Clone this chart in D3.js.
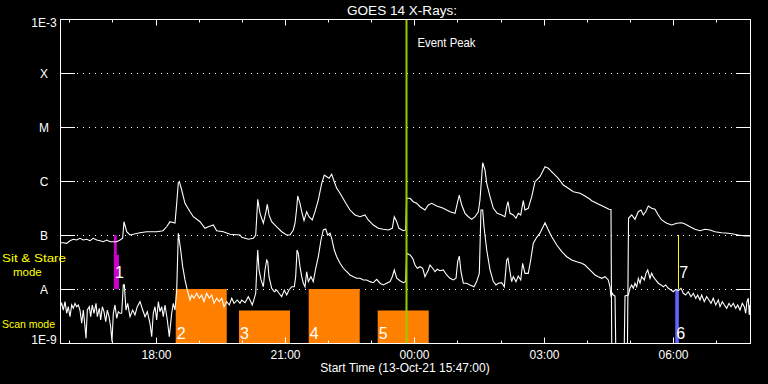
<!DOCTYPE html>
<html><head><meta charset="utf-8">
<script src="https://cdn.jsdelivr.net/npm/d3@7"></script>
<style>
html,body{margin:0;padding:0;background:#000;}
svg{display:block;}
text{font-family:"Liberation Sans",Arial,sans-serif;fill:#fff;}
</style></head>
<body>
<svg id="chart" width="768" height="384"></svg>
<script>
// ---------------- DATA ----------------
const title = "GOES 14 X-Rays:";
const xTitle = "Start Time (13-Oct-21 15:47:00)";
const startTime = "2021-10-13 15:47";
const spanMinutes = 960;
const yTickValues = [1e-3, 1e-4, 1e-5, 1e-6, 1e-7, 1e-8, 1e-9];
const yTickLabels = ["1E-3", "X", "M", "C", "B", "A", "1E-9"];
const gridLevels = [1e-4, 1e-5, 1e-6, 1e-7, 1e-8];

// long channel (1-8 A): [minutes after start, W/m^2]
const longChannel = [[0,7.2e-8],[4.6,7.2e-8],[9.3,7.0e-8],[13.9,7.84e-8],[18.5,8.33e-8],[23.2,8.08e-8],[27.8,8.69e-8],[32.4,8.08e-8],[37.1,8.33e-8],[41.7,7.84e-8],[46.3,8.69e-8],[51.1,8.08e-8],[55.7,7.84e-8],[60.2,7.52e-8],[65.0,8.08e-8],[69.6,7.52e-8],[74.2,7.52e-8],[78.9,7.52e-8],[83.5,8.08e-8],[87.2,8.69e-8],[89.0,1.76e-7],[92.8,1.15e-7],[97.4,1.0e-7],[111.3,1.10e-7],[120.6,1.15e-7],[134.5,1.15e-7],[143.3,1.20e-7],[148.4,1.42e-7],[153.0,1.76e-7],[160.0,1.67e-7],[162.4,3.91e-7],[164.6,9.18e-7],[166.0,9.7e-7],[169.3,6.81e-7],[173.9,3.86e-7],[180.9,2.70e-7],[185.5,2.18e-7],[194.8,1.76e-7],[201.7,1.33e-7],[206.3,1.42e-7],[213.3,1.53e-7],[218.0,1.20e-7],[227.2,1.15e-7],[236.5,1.03e-7],[250.4,1.0e-7],[252.8,9.07e-8],[262.0,8.33e-8],[268.9,8.69e-8],[272.3,1.0e-7],[275.1,4.58e-7],[278.3,2.52e-7],[282.9,1.65e-7],[286.6,2.70e-7],[288.4,3.70e-7],[290.8,2.35e-7],[294.5,1.76e-7],[299.1,1.53e-7],[303.7,1.33e-7],[308.4,1.15e-7],[315.4,1.0e-7],[320.0,1.0e-7],[324.6,1.24e-7],[327.0,1.65e-7],[329.3,3.12e-7],[330.7,5.27e-7],[333.9,3.86e-7],[336.3,2.70e-7],[339.5,1.84e-7],[343.2,2.70e-7],[346.4,2.18e-7],[351.0,1.90e-7],[354.8,2.70e-7],[359.4,4.45e-7],[364.1,9.07e-7],[367.7,1.29e-6],[371.1,1.20e-6],[374.3,1.12e-6],[378.0,1.33e-6],[381.6,9.7e-7],[385.0,7.32e-7],[389.6,5.92e-7],[396.5,4.14e-7],[403.5,2.90e-7],[410.4,2.35e-7],[417.4,2.18e-7],[424.3,2.35e-7],[428.9,1.90e-7],[435.9,1.53e-7],[442.8,1.33e-7],[449.8,1.28e-7],[456.8,1.24e-7],[462.3,1.33e-7],[465.1,2.18e-7],[468.5,1.76e-7],[471.6,1.33e-7],[477.6,1.20e-7],[481.0,1.24e-7],[482.3,4.78e-7],[487.0,4.78e-7],[491.5,4.14e-7],[496.3,3.86e-7],[500.9,3.34e-7],[507.8,2.90e-7],[512.4,3.59e-7],[517.1,3.86e-7],[524.1,3.44e-7],[533.3,3.12e-7],[542.6,2.70e-7],[549.6,2.52e-7],[552.8,3.86e-7],[555.5,5.50e-7],[558.9,3.59e-7],[563.5,2.52e-7],[568.1,2.18e-7],[572.8,1.95e-7],[577.4,2.18e-7],[582.0,2.70e-7],[584.3,4.45e-7],[586.7,1.20e-6],[588.1,2.18e-6],[591.3,1.60e-6],[593.7,9.07e-7],[598.3,5.12e-7],[602.9,3.12e-7],[608.4,2.52e-7],[614.5,2.35e-7],[619.1,2.18e-7],[621.5,3.34e-7],[623.3,4.14e-7],[626.1,2.52e-7],[630.7,2.35e-7],[634.4,2.04e-7],[637.6,2.52e-7],[641.0,2.35e-7],[644.6,4.32e-7],[646.9,2.90e-7],[651.5,3.12e-7],[656.3,5.12e-7],[660.9,9.7e-7],[667.8,1.20e-6],[674.8,1.84e-6],[679.4,1.72e-6],[686.3,1.39e-6],[693.3,1.12e-6],[700.2,8.43e-7],[707.2,7.32e-7],[714.2,6.34e-7],[723.5,5.92e-7],[730.4,5.27e-7],[737.4,4.58e-7],[739.7,4.32e-7],[748.9,3.75e-7],[758.3,3.26e-7],[763.8,2.99e-7],[766.6,2.96e-7],[768.0,1e-10],[788.9,1e-10],[791.0,2.04e-7],[795.4,2.35e-7],[800.0,1.95e-7],[804.6,2.70e-7],[808.4,2.90e-7],[811.6,2.35e-7],[814.9,2.70e-7],[818.5,3.44e-7],[823.2,3.12e-7],[827.8,2.99e-7],[832.4,2.35e-7],[837.1,1.90e-7],[844.1,1.65e-7],[851.1,1.53e-7],[858.0,1.65e-7],[865.0,1.69e-7],[869.6,1.60e-7],[876.5,1.42e-7],[883.5,1.28e-7],[890.4,1.20e-7],[897.4,1.28e-7],[904.3,1.24e-7],[911.3,1.15e-7],[920.6,1.10e-7],[929.8,1.08e-7],[936.7,1.04e-7],[943.7,1.00e-7],[953.0,9.58e-8],[960,9.58e-8]];

// short channel (0.5-4 A): [minutes after start, W/m^2]
const shortChannel = [[0,4.70e-9],[2.4,5.43e-9],[4.6,4.08e-9],[7.0,5.82e-9],[9.3,3.55e-9],[11.5,4.70e-9],[13.9,3.07e-9],[16.3,5.06e-9],[18.5,4.39e-9],[20.9,5.43e-9],[23.2,4.70e-9],[25.5,5.06e-9],[27.8,4.08e-9],[30.2,2.32e-9],[32.4,4.08e-9],[34.8,2.00e-9],[36.2,1.22e-9],[38.0,4.08e-9],[40.8,4.70e-9],[42.7,3.07e-9],[44.9,5.06e-9],[47.3,3.55e-9],[50.1,5.43e-9],[51.9,3.07e-9],[54.7,4.39e-9],[56.6,2.67e-9],[58.9,4.70e-9],[61.2,3.80e-9],[63.6,2.48e-9],[65.8,4.08e-9],[68.2,3.07e-9],[70.5,2.00e-9],[72.3,1.06e-9],[74.2,3.55e-9],[76.5,5.06e-9],[78.9,2.87e-9],[81.1,3.80e-9],[83.5,3.55e-9],[85.8,3.55e-9],[88.1,1.19e-8],[89.5,1.19e-8],[91.8,4.08e-9],[94.2,5.43e-9],[97.4,3.07e-9],[101.1,4.08e-9],[104.3,3.30e-9],[107.5,4.70e-9],[111.3,5.82e-9],[115.1,4.08e-9],[118.3,3.07e-9],[121.5,3.80e-9],[125.2,2.32e-9],[127.6,1.31e-9],[129.8,3.55e-9],[132.2,4.70e-9],[134.5,2.67e-9],[136.8,5.82e-9],[139.1,3.80e-9],[141.5,4.70e-9],[143.7,3.07e-9],[146.1,5.06e-9],[149.3,2.67e-9],[152.1,1.31e-9],[155.4,3.55e-9],[157.6,5.43e-9],[160.0,4.08e-9],[162.4,9.58e-9],[164.6,1.08e-7],[167.9,5.27e-8],[170.7,2.59e-8],[173.9,1.47e-8],[177.1,9.58e-9],[180.9,6.26e-9],[183.2,7.74e-9],[186.4,6.73e-9],[190.2,8.33e-9],[193.8,6.73e-9],[197.1,7.74e-9],[200.3,5.82e-9],[204.1,8.33e-9],[207.7,6.73e-9],[211.1,7.74e-9],[214.3,5.43e-9],[218.0,6.73e-9],[221.6,5.82e-9],[225.0,6.73e-9],[228.2,4.70e-9],[231.9,5.82e-9],[235.6,5.06e-9],[238.9,6.73e-9],[242.1,5.43e-9],[246.7,6.26e-9],[250.4,5.43e-9],[252.8,6.26e-9],[257.4,5.57e-9],[262.0,7.20e-9],[264.3,6.26e-9],[267.5,5.06e-9],[270.3,6.73e-9],[272.3,8.33e-9],[273.7,2.25e-8],[275.1,5.27e-8],[276.9,2.25e-8],[279.7,1.47e-8],[282.9,1.10e-8],[285.2,2.25e-8],[287.6,3.44e-8],[289.0,3.20e-8],[290.8,1.69e-8],[294.5,1.03e-8],[298.2,8.91e-9],[301.5,9.58e-9],[304.7,8.33e-9],[308.4,7.20e-9],[312.1,9.58e-9],[315.4,7.74e-9],[318.6,9.58e-9],[322.4,1.10e-8],[326.0,1.10e-8],[327.9,1.69e-8],[329.8,5.27e-8],[331.5,4.58e-8],[333.9,2.59e-8],[336.3,1.69e-8],[338.5,1.28e-8],[340.9,1.10e-8],[343.2,2.09e-8],[345.5,1.37e-8],[349.2,1.69e-8],[352.4,1.37e-8],[355.8,2.42e-8],[359.4,3.96e-8],[363.1,8.08e-8],[366.3,1.24e-7],[369.7,1.29e-7],[372.4,1.00e-7],[375.7,1.08e-7],[378.0,8.69e-8],[381.6,5.27e-8],[385.0,3.96e-8],[389.6,2.99e-8],[394.2,2.42e-8],[398.9,2.09e-8],[403.5,1.82e-8],[408.1,1.69e-8],[412.8,1.58e-8],[417.4,1.58e-8],[422.0,1.47e-8],[426.7,1.47e-8],[431.3,1.37e-8],[435.9,1.31e-8],[440.6,1.51e-8],[445.2,1.28e-8],[449.8,1.19e-8],[454.5,1.28e-8],[459.1,1.37e-8],[462.3,1.69e-8],[465.1,2.25e-8],[468.5,1.58e-8],[473.0,1.42e-8],[477.6,1.31e-8],[481.0,1.37e-8],[482.3,4.58e-8],[487.0,4.26e-8],[490.7,3.70e-8],[493.9,2.78e-8],[497.1,2.42e-8],[500.9,2.59e-8],[504.6,2.42e-8],[507.8,1.69e-8],[510.2,1.95e-8],[512.4,2.25e-8],[514.8,2.78e-8],[518.5,2.42e-8],[521.7,2.09e-8],[524.9,2.32e-8],[528.7,2.18e-8],[533.3,2.25e-8],[538.0,1.82e-8],[542.6,1.58e-8],[547.2,1.47e-8],[551.0,1.58e-8],[553.3,3.20e-8],[555.5,4.08e-8],[557.9,2.09e-8],[561.1,1.28e-8],[565.8,1.28e-8],[570.4,1.19e-8],[576.0,1.10e-8],[579.7,1.37e-8],[583.4,1.95e-8],[585.7,2.90e-7],[588.1,2.90e-7],[589.9,1.42e-7],[593.7,5.27e-8],[598.3,2.25e-8],[602.9,1.37e-8],[606.6,1.19e-8],[609.8,1.28e-8],[614.5,1.31e-8],[618.2,1.10e-8],[621.5,3.44e-8],[623.3,3.70e-8],[626.1,2.09e-8],[628.4,1.37e-8],[630.7,1.69e-8],[634.4,1.37e-8],[637.6,1.74e-8],[641.0,1.47e-8],[643.7,2.99e-8],[646.9,1.95e-8],[651.5,1.95e-8],[654.9,3.44e-8],[658.5,7.04e-8],[663.3,9.07e-8],[667.8,1.08e-7],[674.8,1.69e-7],[679.4,1.24e-7],[684.2,9.3e-8],[691.1,6.53e-8],[698.1,4.91e-8],[705.0,3.96e-8],[712.0,3.44e-8],[718.9,3.20e-8],[725.9,2.99e-8],[730.4,2.78e-8],[735.0,2.42e-8],[739.7,2.09e-8],[744.3,1.82e-8],[748.9,1.69e-8],[753.7,1.58e-8],[758.3,1.69e-8],[762.8,1.47e-8],[765.2,1.10e-8],[766.6,7.20e-9],[768.4,8.33e-9],[769.8,7.74e-9],[772.2,7.42e-9],[774.2,1e-10],[784.0,1e-10],[786.1,7.42e-9],[790.7,7.74e-9],[793.0,1.03e-8],[795.4,1.19e-8],[797.7,1.03e-8],[800.0,1.28e-8],[802.4,1.10e-8],[804.6,1.58e-8],[807.0,1.28e-8],[809.3,1.69e-8],[813.0,1.47e-8],[815.3,1.95e-8],[817.7,2.25e-8],[820.9,1.58e-8],[823.2,1.95e-8],[825.4,1.69e-8],[828.8,1.47e-8],[832.4,1.28e-8],[836.2,1.19e-8],[839.4,1.10e-8],[842.7,1.19e-8],[846.3,1.03e-8],[850.1,9.58e-9],[853.3,8.91e-9],[856.6,9.87e-9],[860.2,9.30e-9],[864.0,1.03e-8],[867.2,8.33e-9],[870.5,7.74e-9],[874.1,8.91e-9],[877.9,7.20e-9],[881.1,8.33e-9],[884.5,6.73e-9],[887.2,7.74e-9],[890.4,6.26e-9],[892.8,7.74e-9],[896.4,5.82e-9],[899.7,7.20e-9],[902.9,6.26e-9],[905.7,5.43e-9],[908.9,6.73e-9],[912.3,5.06e-9],[915.9,6.26e-9],[918.3,4.70e-9],[921.5,5.82e-9],[924.3,5.06e-9],[927.6,4.39e-9],[930.8,5.43e-9],[933.6,4.70e-9],[936.7,5.43e-9],[940.1,4.39e-9],[942.9,5.06e-9],[946.1,4.08e-9],[949.3,5.43e-9],[952.1,4.70e-9],[954.0,3.55e-9],[955.8,5.82e-9],[957.6,6.73e-9],[959.0,3.30e-9],[960,5.06e-9]];

// observation events
const eventLabels = ["1", "", "2", "3", "4", "5", "6", "7"];
const eventStart = ["2021-10-13 17:02","2021-10-13 17:02","2021-10-13 18:28","2021-10-13 19:56","2021-10-13 21:33","2021-10-13 23:09","2021-10-14 06:03","2021-10-14 06:07"];
const eventEnd   = ["2021-10-13 17:06","2021-10-13 17:09","2021-10-13 19:39","2021-10-13 21:07","2021-10-13 22:44","2021-10-14 00:20","2021-10-14 06:08","2021-10-14 06:07"];
const eventLow   = [1e-8, 1e-8, 1e-9, 1e-9, 1e-9, 1e-9, 1e-9, 1e-8];
const eventHigh  = [1e-7, 4.3e-8, 1e-8, 4e-9, 1e-8, 4e-9, 1e-8, 1e-7];
const eventMode  = ["sitstare","sitstare","scan","scan","scan","scan","other","line"];
const eventPeakTime = "2021-10-13 23:49";
const eventPeakLabel = "Event Peak";
const modeLabels = ["Sit & Stare", "mode", "Scan mode"];

// ---------------- DRAW ----------------
const parse = d3.timeParse("%Y-%m-%d %H:%M");
const t0 = parse(startTime);
const t1 = d3.timeMinute.offset(t0, spanMinutes);
const L = 60, R = 750, T = 19, B = 343;

const x = d3.scaleTime().domain([t0, t1]).range([L, R]);
const y = d3.scaleLog().domain([1e-9, 1e-3]).range([B, T]);
const modeColor = {sitstare:"#cc00cc", scan:"#ff8000", other:"#6464ff", line:"#ffff00"};

const svg = d3.select("#chart");
svg.append("rect").attr("width",768).attr("height",384).attr("fill","#000");

svg.append("defs").append("clipPath").attr("id","clip")
  .append("rect").attr("x",L).attr("y",T).attr("width",R-L).attr("height",B-T);

// grid dotted lines
const grid = svg.append("g");
gridLevels.forEach(v => {
  const yy = Math.round(y(v)) + 0.5;
  grid.append("line").attr("x1",L+17).attr("x2",R-14).attr("y1",yy).attr("y2",yy)
    .attr("stroke","#fff").attr("stroke-width",1).attr("stroke-dasharray","1,5");
  grid.append("line").attr("x1",L).attr("x2",L+15).attr("y1",yy).attr("y2",yy).attr("stroke","#fff");
  grid.append("line").attr("x1",R-14).attr("x2",R).attr("y1",yy).attr("y2",yy).attr("stroke","#fff");
});

// events
const evG = svg.append("g");
eventLabels.forEach((lab, i) => {
  const s = parse(eventStart[i]), e = parse(eventEnd[i]);
  const col = modeColor[eventMode[i]];
  if (eventMode[i] === "line") {
    const xx = Math.round(x(s)) + 0.5;
    evG.append("line").attr("x1",xx).attr("x2",xx).attr("y1",y(eventHigh[i])).attr("y2",y(eventLow[i]))
      .attr("stroke",col).attr("stroke-width",1);
  } else {
    evG.append("rect").attr("x",x(s)).attr("width",Math.max(1,x(e)-x(s)))
      .attr("y",y(eventHigh[i])).attr("height",y(eventLow[i])-y(eventHigh[i])).attr("fill",col);
  }
});

// curves
const line = d3.line()
  .x(d => x(new Date(t0.getTime() + d[0] * 60000)))
  .y(d => y(d[1]));
const cg = svg.append("g").attr("clip-path","url(#clip)");
[longChannel, shortChannel].forEach(series => {
  cg.append("path").datum(series).attr("d", line).attr("fill","none")
    .attr("stroke","#fff").attr("stroke-width",1.1).attr("stroke-linejoin","miter");
});

// event labels
eventLabels.forEach((lab, i) => {
  if (!lab) return;
  const s = parse(eventStart[i]);
  const off = eventLow[i] > 1e-9 ? 11 : 4;
  svg.append("text").attr("x", x(s) + 1).attr("y", y(eventLow[i]) - off)
    .attr("font-size",16).text(lab);
});

// event peak
const px = Math.round(x(parse(eventPeakTime))) + 0.5;
svg.append("line").attr("x1",px).attr("x2",px).attr("y1",T).attr("y2",B)
  .attr("stroke","#99cc00").attr("stroke-width",2);
svg.append("text").attr("x",px+11).attr("y",47).attr("font-size",12)
  .attr("textLength",58).attr("lengthAdjust","spacingAndGlyphs").text(eventPeakLabel);

// frame
svg.append("rect").attr("x",L+0.5).attr("y",T+0.5).attr("width",R-L).attr("height",B-T)
  .attr("fill","none").attr("stroke","#fff");

// x ticks
const hours = d3.timeHour.range(t0, t1);
hours.forEach(h => {
  const xx = Math.round(x(h)) + 0.5;
  const major = h.getHours() % 3 === 0;
  const len = major ? 6 : 3;
  svg.append("line").attr("x1",xx).attr("x2",xx).attr("y1",B+0.5).attr("y2",B+0.5-len).attr("stroke","#fff");
  svg.append("line").attr("x1",xx).attr("x2",xx).attr("y1",T+0.5).attr("y2",T+0.5+len).attr("stroke","#fff");
  if (major) {
    svg.append("text").attr("x",xx).attr("y",359).attr("text-anchor","middle")
      .attr("font-size",12).text(d3.timeFormat("%H:%M")(h));
  }
});

// y labels
yTickValues.forEach((v, i) => {
  let yy = y(v) + 5;
  if (i === 0) yy = y(v) + 7.5;
  if (i === yTickValues.length - 1) yy = y(v) + 1;
  svg.append("text").attr("x",44).attr("y",yy).attr("text-anchor","middle")
    .attr("font-size",12).text(yTickLabels[i]);
});

// titles
svg.append("text").attr("x",402).attr("y",15).attr("text-anchor","middle").attr("font-size",12)
  .attr("textLength",110).attr("lengthAdjust","spacingAndGlyphs").text(title);
svg.append("text").attr("x",405).attr("y",372).attr("text-anchor","middle").attr("font-size",12).text(xTitle);

// mode labels
svg.append("text").attr("x",2).attr("y",262).attr("font-size",11.5).style("fill","#ffff00")
  .attr("textLength",64).attr("lengthAdjust","spacingAndGlyphs").text(modeLabels[0]);
svg.append("text").attr("x",13).attr("y",275.5).attr("font-size",11.5).style("fill","#ffff00").text(modeLabels[1]);
svg.append("text").attr("x",2).attr("y",328).attr("font-size",11.5).style("fill","#ffff00")
  .attr("textLength",53).attr("lengthAdjust","spacingAndGlyphs").text(modeLabels[2]);
</script>
</body></html>
